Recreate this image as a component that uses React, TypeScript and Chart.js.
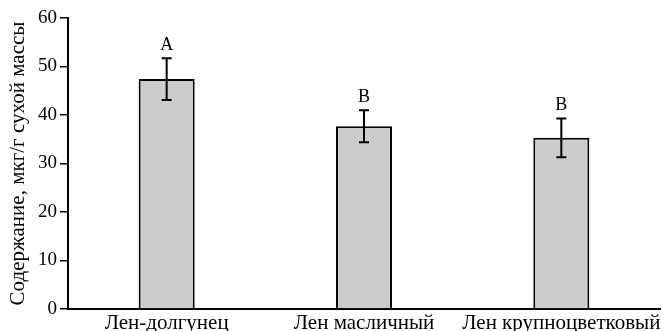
import React, { useEffect, useRef } from "react";
import { Chart, registerables } from "chart.js";

Chart.register(...registerables);

const categories = ["Лен-долгунец", "Лен масличный", "Лен крупноцветковый"];
const means = [47.4, 37.7, 35.3];
const errors = [4.3, 3.3, 4.0];
const letters = ["A", "B", "B"];
const yTicks = [0, 10, 20, 30, 40, 50, 60];
const yTitle = "Содержание, мкг/г сухой массы";

const FONT = "'Liberation Serif', 'Times New Roman', serif";

const errorPlugin = {
  id: "errorBarsLetters",
  afterDatasetsDraw(chart: any) {
    const ctx = chart.ctx;
    const meta = chart.getDatasetMeta(0);
    const y = chart.scales.y;
    ctx.save();
    ctx.strokeStyle = "#000";
    ctx.fillStyle = "#000";
    ctx.lineWidth = 2;
    ctx.font = `18px ${FONT}`;
    ctx.textAlign = "center";
    ctx.textBaseline = "alphabetic";
    meta.data.forEach((bar: any, i: number) => {
      const x = bar.x;
      const top = y.getPixelForValue(means[i] + errors[i]);
      const bot = y.getPixelForValue(means[i] - errors[i]);
      ctx.beginPath();
      ctx.moveTo(x, top);
      ctx.lineTo(x, bot);
      ctx.moveTo(x - 5, top);
      ctx.lineTo(x + 5, top);
      ctx.moveTo(x - 5, bot);
      ctx.lineTo(x + 5, bot);
      ctx.stroke();
      ctx.fillText(letters[i], x, top - 8);
    });
    ctx.restore();
  },
};

export default function App() {
  const ref = useRef<HTMLCanvasElement>(null);
  useEffect(() => {
    document.body.style.margin = "0";
    const chart = new Chart(ref.current!, {
      type: "bar",
      data: {
        labels: categories,
        datasets: [
          {
            data: means,
            backgroundColor: "#cccccc",
            borderColor: "#000",
            borderWidth: 2,
            barPercentage: 0.284,
            categoryPercentage: 1,
          },
        ],
      },
      options: {
        animation: false,
        responsive: false,
        maintainAspectRatio: false,
        layout: { padding: { top: 18, right: 2, left: 0, bottom: 0 } },
        plugins: { legend: { display: false }, tooltip: { enabled: false } },
        scales: {
          x: {
            grid: { display: false },
            border: { display: true, color: "#000", width: 2 },
            ticks: {
              color: "#000",
              font: { family: FONT, size: 21 },
              padding: -6,
              maxRotation: 0,
              autoSkip: false,
            },
            afterFit(scale: any) {
              scale.height = 22;
            },
          },
          y: {
            min: 0,
            max: 60,
            afterBuildTicks(scale: any) {
              scale.ticks = yTicks.map((v) => ({ value: v }));
            },
            grid: {
              display: true,
              drawOnChartArea: false,
              drawTicks: true,
              tickLength: 8,
              color: "#000",
              lineWidth: 1.5,
            },
            border: { display: true, color: "#000", width: 2 },
            ticks: {
              color: "#000",
              font: { family: FONT, size: 19 },
              padding: 3,
            },
            title: {
              display: true,
              text: yTitle,
              color: "#000",
              font: { family: FONT, size: 21 },
              padding: { top: 6, bottom: 2 },
            },
            afterFit(scale: any) {
              scale.width = 68;
            },
          },
        },
      },
      plugins: [errorPlugin],
    });
    return () => chart.destroy();
  }, []);
  return (
    <div style={{ width: 662, height: 331 }}>
      <canvas ref={ref} width={662} height={331} style={{ display: "block" }} />
    </div>
  );
}
